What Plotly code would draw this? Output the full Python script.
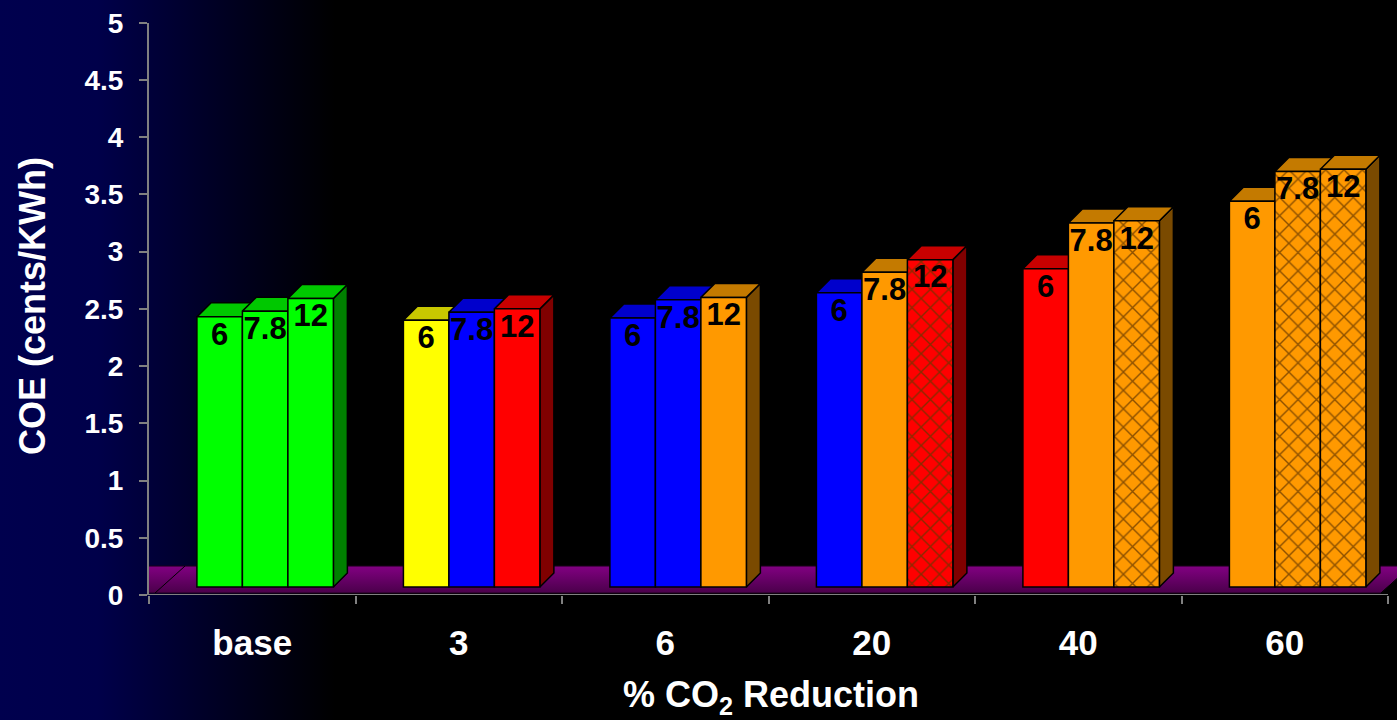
import base64
import plotly.graph_objects as go

# ---- data ---------------------------------------------------------------
categories = ["base", "3", "6", "20", "40", "60"]          # % CO2 reduction
series_labels = ["6", "7.8", "12"]                          # label printed on each bar
coe_6 = [2.36, 2.33, 2.35, 2.57, 2.78, 3.37]                # cents/kWh
coe_7_8 = [2.41, 2.40, 2.51, 2.75, 3.18, 3.63]
coe_12 = [2.52, 2.43, 2.53, 2.86, 3.20, 3.65]
y_ticks = [0, 0.5, 1, 1.5, 2, 2.5, 3, 3.5, 4, 4.5, 5]

# fill style of every bar (per series, per category)
bar_styles = [
    ["green", "yellow", "blue", "blue", "red", "orange"],
    ["green", "blue", "blue", "orange", "orange", "orange_h"],
    ["green", "red", "orange", "red_h", "orange_h", "orange_h"],
]
palette = {
    # name: (front, top, side, hatch colour or None)
    "green": ("#00ff00", "#00c800", "#008000", None),
    "yellow": ("#ffff00", "#c8c800", "#808000", None),
    "blue": ("#0000ff", "#0000cc", "#000080", None),
    "red": ("#ff0000", "#c80000", "#800000", None),
    "orange": ("#ff9900", "#c47a00", "#7a4a00", None),
    "red_h": ("#ff0000", "#c80000", "#800000", "#8a2a00"),
    "orange_h": ("#ff9900", "#c47a00", "#7a4a00", "#8c5000"),
}

series = [coe_6, coe_7_8, coe_12]

# ---- geometry of the pseudo-3D columns (axis units) ---------------------
PX_X, PX_Y = 206.5, 114.5           # pixels per x unit / per y unit
X_LEFT = -0.5
X_RIGHT = X_LEFT + (1397 - 149) / PX_X
GROUP_START = -0.268                 # left edge of a cluster relative to category
BAR_W = 0.2203
DX, DY = 14 / PX_X, 14 / PX_Y        # depth offset of top / side faces
BASE = 0.07                          # front-face floor level
FLOOR_FRONT, FLOOR_BACK = 0.017, 0.253

fig = go.Figure()

# floor slab
fx_front_r = X_LEFT + (1381 - 149) / PX_X
fig.add_trace(go.Scatter(
    x=[X_LEFT - 0.01, fx_front_r, fx_front_r + 30 / PX_X, X_LEFT - 0.01, X_LEFT - 0.01],
    y=[FLOOR_FRONT, FLOOR_FRONT, FLOOR_BACK, FLOOR_BACK, FLOOR_FRONT],
    fill="toself", mode="lines", line=dict(color="#1a001a", width=1),
    fillgradient=dict(type="vertical", start=FLOOR_FRONT, stop=FLOOR_BACK,
                      colorscale=[[0, "#4a004a"], [1, "#820082"]]),
    hoverinfo="skip", showlegend=False))
fl_x0 = X_LEFT + 6 / PX_X
fig.add_trace(go.Scatter(
    x=[fl_x0, fl_x0 + 30 / PX_X, None, fx_front_r, fx_front_r + 30 / PX_X],
    y=[FLOOR_FRONT, FLOOR_BACK, None, FLOOR_FRONT, FLOOR_BACK],
    mode="lines", line=dict(color="#000000", width=1),
    hoverinfo="skip", showlegend=False))

# side and top faces, drawn behind the front faces
fronts = {}          # style name -> (x centres, heights)
bar_x, bar_top, labels = [], [], []
for i, _cat in enumerate(categories):
    faces_side, faces_top = [], []
    for j, vals in enumerate(series):
        v = vals[i]
        xl = i + GROUP_START + j * BAR_W
        xr = xl + BAR_W
        top = BASE + v
        style = bar_styles[j][i]
        front, topc, side, hatch = palette[style]
        faces_side.append(([xr, xr + DX, xr + DX, xr, xr],
                           [BASE, BASE + DY, top + DY, top, BASE], side))
        faces_top.append(([xl, xl + DX, xr + DX, xr, xl],
                          [top, top + DY, top + DY, top, top], topc))
        fx, fy = fronts.setdefault(style, ([], []))
        fx.append((xl + xr) / 2)
        fy.append(v)
        bar_x.append((xl + xr) / 2)
        bar_top.append(v)
        labels.append(series_labels[j])
    for xs, ys, col in faces_side + faces_top:
        fig.add_trace(go.Scatter(
            x=xs, y=ys, fill="toself", fillcolor=col, mode="lines",
            line=dict(color="#000000", width=1.5),
            hoverinfo="skip", showlegend=False))

# front faces on an overlaid axis pair so they sit above the side/top faces
for style, (fx, fy) in fronts.items():
    front, _topc, _side, hatch = palette[style]
    marker = dict(color=front, line=dict(color="#000000", width=1.5))
    if hatch:
        marker["pattern"] = dict(shape="x", fgcolor=hatch, bgcolor=front,
                                 fillmode="replace", size=13, solidity=0.2)
    fig.add_trace(go.Bar(
        x=fx, y=fy, base=BASE, width=BAR_W, marker=marker,
        xaxis="x2", yaxis="y2", hoverinfo="skip", showlegend=False))

fig.add_trace(go.Scatter(
    x=bar_x, y=[BASE + v - 0.04 for v in bar_top], text=labels,
    mode="text", textposition="bottom center",
    textfont=dict(family="Liberation Sans, Arial", size=31, color="#000000", weight="bold"),
    xaxis="x2", yaxis="y2", cliponaxis=False, hoverinfo="skip", showlegend=False))

# background: navy fading to black from the left
svg = ('<svg xmlns="http://www.w3.org/2000/svg" width="1397" height="720">'
       '<defs><linearGradient id="g" x1="0" y1="0" x2="1" y2="0">'
       '<stop offset="0" stop-color="#00004e"/><stop offset="0.07" stop-color="#00004a"/>'
       '<stop offset="0.15" stop-color="#000026"/><stop offset="0.24" stop-color="#000000"/>'
       '<stop offset="1" stop-color="#000000"/></linearGradient></defs>'
       '<rect width="1397" height="720" fill="url(#g)"/></svg>')
bg_uri = "data:image/svg+xml;base64," + base64.b64encode(svg.encode()).decode()

grey = "#808080"
tick_font = dict(family="Liberation Sans, Arial", color="#ffffff", weight="bold")
x_dom = [149 / 1397, 1.0]
y_dom = [(720 - 595) / 720, (720 - 22.7) / 720]

fig.update_layout(
    width=1397, height=720,
    barmode="overlay",
    margin=dict(l=0, r=0, t=0, b=0, pad=0, autoexpand=False),
    paper_bgcolor="#000000", plot_bgcolor="rgba(0,0,0,0)",
    images=[dict(source=bg_uri, xref="paper", yref="paper", x=0, y=1,
                 sizex=1, sizey=1, xanchor="left", yanchor="top",
                 sizing="stretch", layer="below")],
    xaxis=dict(domain=x_dom, range=[X_LEFT, X_RIGHT], showgrid=False, zeroline=False,
               showline=False, automargin=False, tickmode="array",
               tickvals=list(range(len(categories))),
               ticktext=categories, ticks="", tickfont=dict(size=35, **tick_font),
               ticklabelstandoff=24,
               minor=dict(tickmode="linear", tick0=-0.5, dtick=1, ticks="outside",
                          ticklen=8, tickwidth=2, tickcolor=grey, showgrid=False)),
    yaxis=dict(domain=y_dom, range=[0, 5], showgrid=False, zeroline=False,
               showline=True, linecolor=grey, linewidth=2, automargin=False,
               tickmode="array", tickvals=y_ticks, ticks="outside", ticklen=8,
               tickwidth=2, tickcolor=grey, tickfont=dict(size=28, **tick_font),
               ticklabelstandoff=10),
    xaxis2=dict(overlaying="x", matches="x", visible=False, automargin=False),
    yaxis2=dict(overlaying="y", matches="y", visible=False, automargin=False),
    shapes=[dict(type="line", xref="x", yref="y", x0=-0.5, x1=5.5, y0=0, y1=0,
                 line=dict(color=grey, width=2), layer="above")],
    annotations=[
        dict(text="COE (cents/KWh)", xref="paper", yref="paper",
             x=32 / 1397, y=(720 - 306) / 720, textangle=-90, showarrow=False,
             xanchor="center", yanchor="middle",
             font=dict(family="Liberation Sans, Arial", size=36, color="#ffffff", weight="bold")),
        dict(text="% CO<sub>2</sub> Reduction", xref="paper", yref="paper",
             x=771 / 1397, y=(720 - 697) / 720, showarrow=False,
             xanchor="center", yanchor="middle",
             font=dict(family="Liberation Sans, Arial", size=36, color="#ffffff", weight="bold")),
    ],
)

fig.write_html("out.html")
